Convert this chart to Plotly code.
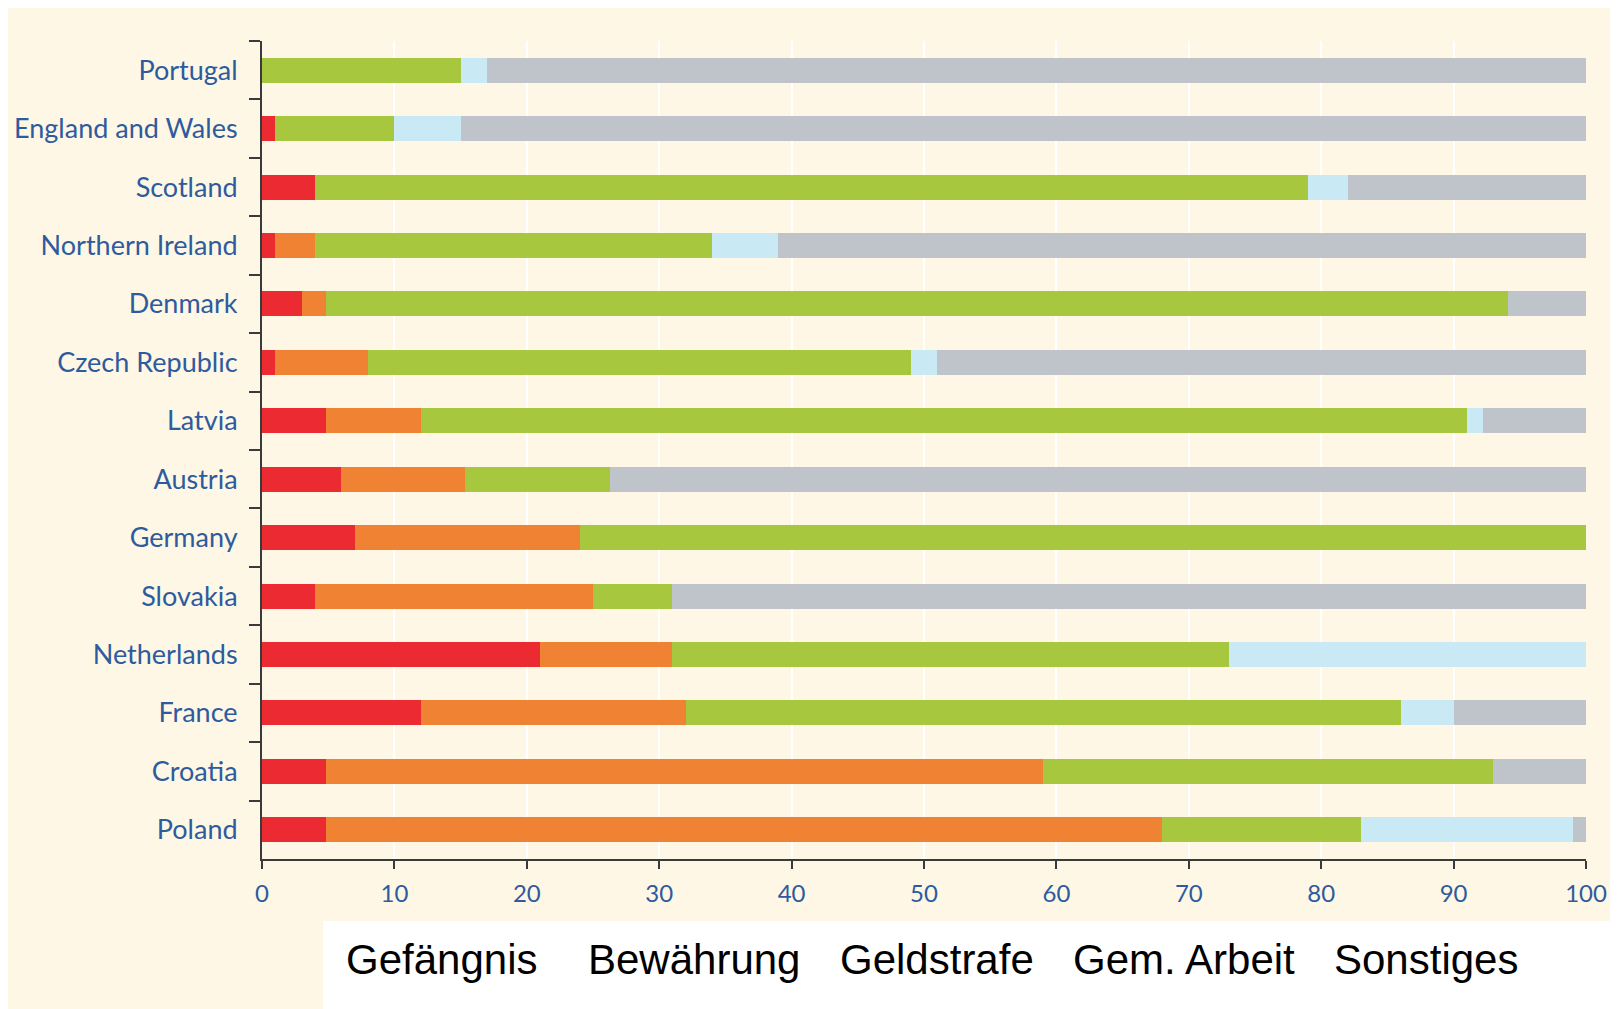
import plotly.graph_objects as go

countries = ["Portugal", "England and Wales", "Scotland", "Northern Ireland", "Denmark",
             "Czech Republic", "Latvia", "Austria", "Germany", "Slovakia", "Netherlands",
             "France", "Croatia", "Poland"]

series_names = ["Gefängnis", "Bewährung", "Geldstrafe", "Gem. Arbeit", "Sonstiges"]

gefaengnis = [0, 1, 4, 1, 3, 1, 4.8, 6, 7, 4, 21, 12, 4.8, 4.8]
bewaehrung = [0, 0, 0, 3, 1.8, 7, 7.2, 9.3, 17, 21, 10, 20, 54.2, 63.2]
geldstrafe = [15, 9, 75, 30, 89.3, 41, 79, 11, 76, 6, 42, 54, 34, 15]
gem_arbeit = [2, 5, 3, 5, 0, 2, 1.2, 0, 0, 0, 27, 4, 0, 16]
sonstiges = [83, 85, 18, 61, 5.9, 49, 7.8, 73.7, 0, 69, 0, 10, 7, 1]

x_ticks = [0, 10, 20, 30, 40, 50, 60, 70, 80, 90, 100]

colors = ["#EC2A32", "#F08234", "#A6C73E", "#C9E9F4", "#BFC3CA"]
values = [gefaengnis, bewaehrung, geldstrafe, gem_arbeit, sonstiges]

W, H = 1618, 1009
OFF = 8  # page body margin
L, R, T, B = 254, 40, 33, 158
PW, PH = W - L - R, H - T - B
CREAM = "#FEF7E5"
BLUE = "#2D5B9E"


def px(xp):
    return (xp - OFF - L) / PW


def py(yp):
    return (H - B - (yp - OFF)) / PH


fig = go.Figure()
for name, vals, col in zip(series_names, values, colors):
    fig.add_trace(go.Bar(
        y=countries, x=vals, name=name, orientation="h",
        marker=dict(color=col, line=dict(width=0)),
        showlegend=False,
    ))

shapes = [
    dict(type="rect", xref="paper", yref="paper", layer="above",
         x0=px(323), x1=px(W + 20), y0=py(H + 20), y1=py(921),
         fillcolor="white", line=dict(width=0)),
]

legend_x = [344, 586, 838, 1071, 1332]
annotations = []
for name, lx in zip(series_names, legend_x):
    annotations.append(dict(
        text=name, xref="paper", yref="paper", x=px(lx), y=py(959),
        xanchor="left", yanchor="middle", showarrow=False,
        font=dict(family="Liberation Sans, Arial", size=42, color="black"),
    ))

fig.update_layout(
    width=W, height=H,
    margin=dict(l=L, r=R, t=T, b=B, pad=0, autoexpand=False),
    barmode="stack",
    bargap=0.57,
    paper_bgcolor=CREAM,
    plot_bgcolor=CREAM,
    shapes=shapes,
    annotations=annotations,
    showlegend=False,
    font=dict(family="Lato, Noto Sans, sans-serif", color=BLUE),
)

fig.update_xaxes(
    range=[0, 100], tickvals=x_ticks, ticktext=[str(v) for v in x_ticks],
    showgrid=True, gridcolor="white", gridwidth=2,
    showline=True, linecolor="#3a3a3a", linewidth=2,
    ticks="outside", ticklen=8, tickwidth=2, tickcolor="#3a3a3a",
    tickfont=dict(size=24, color=BLUE), ticklabelstandoff=4,
    zeroline=False, automargin=False,
)
fig.update_yaxes(
    autorange="reversed",
    showgrid=False,
    showline=True, linecolor="#3a3a3a", linewidth=2,
    ticks="outside", ticklen=11, tickwidth=2, tickcolor="#3a3a3a",
    tickson="boundaries", automargin=False,
    tickfont=dict(size=27, color=BLUE), ticklabelstandoff=17,
)

fig.write_html("out.html")
